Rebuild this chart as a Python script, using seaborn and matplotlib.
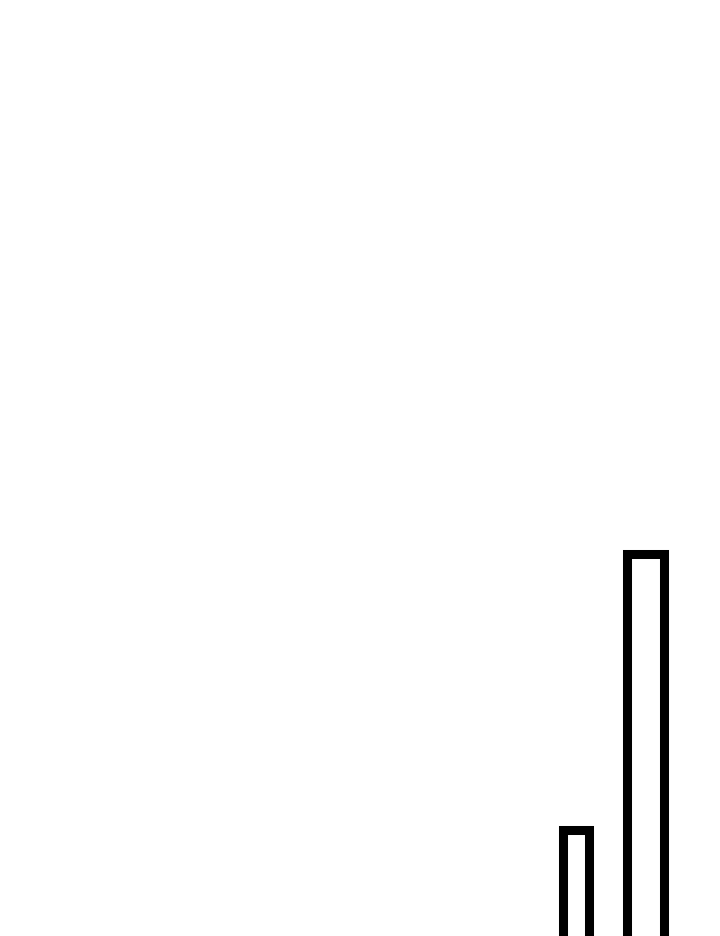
import matplotlib
matplotlib.use("Agg")
import matplotlib.pyplot as plt
import seaborn as sns
import pandas as pd

# Data
categories = ["A", "B"]
values = [20, 50]

# Style (relative bar widths, in category units)
bar_widths = [0.373, 0.537]

df = pd.DataFrame({"category": categories, "value": values})

sns.set_style("white")
fig = plt.figure(figsize=(7.2, 9.36), dpi=100)
ax = fig.add_axes([0, 0, 1, 1])

sns.barplot(data=df, x="category", y="value", order=categories,
            color="white", edgecolor="black", linewidth=6.5,
            errorbar=None, ax=ax, width=0.5)

for patch, w in zip(ax.patches, bar_widths):
    c = patch.get_x() + patch.get_width() / 2
    patch.set_width(w)
    patch.set_x(c - w / 2)
    patch.set_joinstyle("miter")

ax.set_xlim(-8.261, 2.069)
ax.set_ylim(8.56, 110.05)
ax.axis("off")

fig.savefig("out.png", dpi=100, facecolor="white")
